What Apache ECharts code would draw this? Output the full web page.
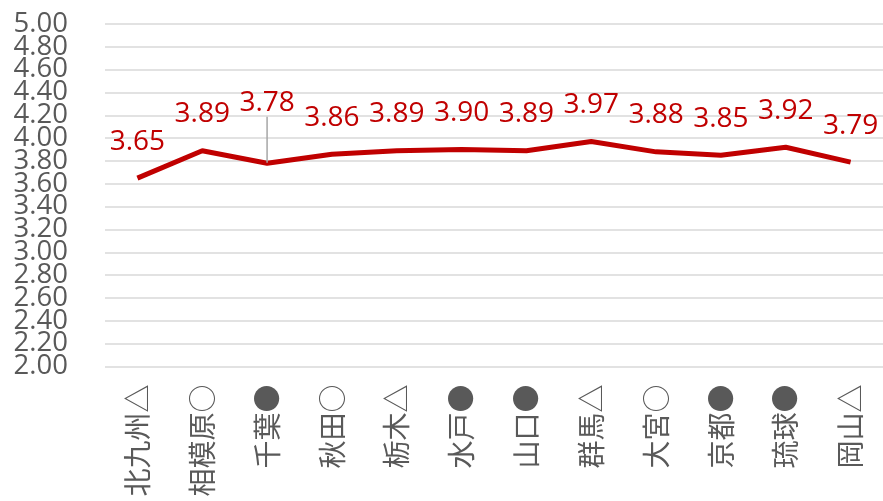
<!DOCTYPE html>
<html>
<head>
<meta charset="utf-8">
<script src="https://cdn.jsdelivr.net/npm/echarts@6/dist/echarts.min.js"></script>
<style>
  html, body { margin: 0; padding: 0; background: #ffffff; }
  #chart { width: 883px; height: 501px; }
</style>
</head>
<body>
<div id="chart"></div>
<script>
// Cities with their rating mark
const categories = ['北九州△', '相模原○', '千葉●', '秋田○', '栃木△', '水戸●', '山口●', '群馬△', '大宮○', '京都●', '琉球●', '岡山△'];
// Average score per city
const scores = [3.65, 3.89, 3.78, 3.86, 3.89, 3.90, 3.89, 3.97, 3.88, 3.85, 3.92, 3.79];
// Value axis range and step
const yMin = 2.0;
const yMax = 5.0;
const yStep = 0.2;

// The label of this point sits higher, tied to its point by a guide line
const liftedIndex = 2;

const chart = echarts.init(document.getElementById('chart'), null, { renderer: 'canvas' });

const seriesData = scores.map((v, i) => {
  const item = { value: v };
  if (i === liftedIndex) {
    item.labelLine = { show: true, lineStyle: { color: '#a6a6a6', width: 1.5 } };
  }
  return item;
});

// The tick labels sit closer than their text height, so they are split over
// two stacked axes (even and odd steps) to keep every one of them visible.
const stepIndex = v => Math.round((v - yMin) / yStep);
const yLabelStyle = {
  margin: 37,
  color: '#595959',
  fontFamily: '"Open Sans", sans-serif',
  fontSize: 27.5,
  lineHeight: 22,
  hideOverlap: false
};
const valueAxis = (parity, extra) => Object.assign({
  type: 'value',
  position: 'left',
  min: yMin,
  max: yMax,
  interval: yStep,
  axisLine: { show: false },
  axisTick: { show: false }
}, extra);

chart.setOption({
  animation: false,
  backgroundColor: '#ffffff',
  grid: { left: 105, right: -3, top: 24, bottom: 134.5, containLabel: false },
  xAxis: {
    type: 'category',
    data: categories,
    boundaryGap: true,
    axisLine: { show: false },
    axisTick: { show: false },
    axisLabel: {
      rotate: 90,
      margin: 18,
      color: '#595959',
      fontFamily: '"Noto Sans CJK JP", sans-serif',
      fontSize: 28,
      interval: 0
    }
  },
  yAxis: [
    valueAxis(0, {
      splitLine: { lineStyle: { color: '#d9d9d9', width: 1.5 } },
      axisLabel: Object.assign({}, yLabelStyle, {
        showMinLabel: true,
        showMaxLabel: false,
        formatter: v => (stepIndex(v) % 2 === 0 ? v.toFixed(2) : '')
      })
    }),
    valueAxis(1, {
      splitLine: { show: false },
      axisLabel: Object.assign({}, yLabelStyle, {
        showMinLabel: false,
        showMaxLabel: true,
        formatter: v => (stepIndex(v) % 2 === 1 ? v.toFixed(2) : '')
      })
    })
  ],
  series: [{
    type: 'line',
    yAxisIndex: 0,
    data: seriesData,
    symbol: 'circle',
    symbolSize: 1,
    itemStyle: { color: 'rgba(192,0,0,0)' },
    lineStyle: { color: '#C00000', width: 5 },
    label: {
      show: true,
      position: 'top',
      distance: 22,
      color: '#C00000',
      fontFamily: '"Open Sans", sans-serif',
      fontSize: 28,
      formatter: p => p.value.toFixed(2)
    },
    labelLine: { show: false },
    labelLayout: p => (p.dataIndex === liftedIndex ? { dy: -24 } : {})
  }]
});
</script>
</body>
</html>
